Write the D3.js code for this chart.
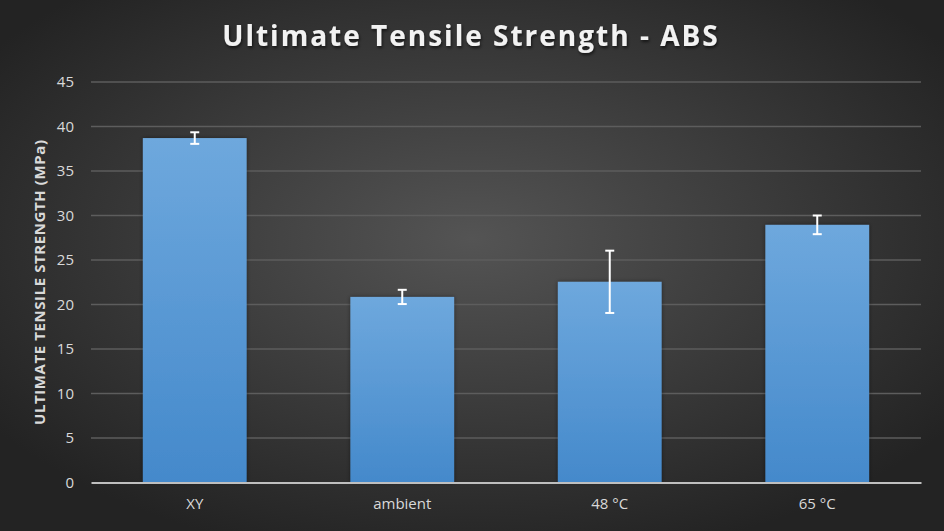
<!DOCTYPE html>
<html>
<head>
<meta charset="utf-8">
<script src="https://cdn.jsdelivr.net/npm/d3@7"></script>
<style>
  html, body { margin: 0; padding: 0; background: #333; }
  svg { display: block; }
</style>
</head>
<body>
<svg id="chart"></svg>
<script>
const categories = ['XY', 'ambient', '48 °C', '65 °C'];
const strength = [38.7, 20.85, 22.55, 28.95];
const errors = [0.65, 0.8, 3.5, 1.05];
const yTicks = [0, 5, 10, 15, 20, 25, 30, 35, 40, 45];

const width = 944;
const height = 531;
const margin = { top: 82, right: 23, bottom: 48.5, left: 91 };

const svg = d3.select('#chart').attr('width', width).attr('height', height);
const defs = svg.append('defs');

const bg = defs.append('radialGradient').attr('id', 'bg')
  .attr('cx', '50%').attr('cy', '45%').attr('r', '62%');
bg.append('stop').attr('offset', '0%').attr('stop-color', '#545454');
bg.append('stop').attr('offset', '100%').attr('stop-color', '#232323');

const barGrad = defs.append('linearGradient').attr('id', 'bar')
  .attr('x1', 0).attr('y1', 0).attr('x2', 0).attr('y2', 1);
barGrad.append('stop').attr('offset', '0%').attr('stop-color', '#6ea8dd');
barGrad.append('stop').attr('offset', '100%').attr('stop-color', '#4489cb');

const shadow = defs.append('filter').attr('id', 'shadow')
  .attr('x', '-20%').attr('y', '-20%').attr('width', '140%').attr('height', '140%');
shadow.append('feDropShadow').attr('dx', 0).attr('dy', 0)
  .attr('stdDeviation', 2).attr('flood-color', '#000').attr('flood-opacity', 0.45);

const titleShadow = defs.append('filter').attr('id', 'tshadow');
titleShadow.append('feDropShadow').attr('dx', 1).attr('dy', 2)
  .attr('stdDeviation', 1.5).attr('flood-color', '#000').attr('flood-opacity', 0.6);

svg.append('rect').attr('width', width).attr('height', height).attr('fill', 'url(#bg)');

const x = d3.scaleBand()
  .domain(categories)
  .range([margin.left, width - margin.right])
  .paddingInner(0.5)
  .paddingOuter(0.25);

const y = d3.scaleLinear()
  .domain([0, 45])
  .range([height - margin.bottom, margin.top]);

// gridlines
svg.append('g')
  .selectAll('line')
  .data(yTicks.filter(d => d > 0))
  .join('line')
  .attr('x1', margin.left)
  .attr('x2', width - margin.right)
  .attr('y1', d => y(d))
  .attr('y2', d => y(d))
  .attr('stroke', '#5d5d5d')
  .attr('stroke-width', 1.5);

// y axis labels
const axisY = d3.axisLeft(y).tickValues(yTicks).tickSize(0).tickPadding(17);
svg.append('g')
  .attr('transform', `translate(${margin.left},0)`)
  .call(axisY)
  .call(g => g.select('.domain').remove())
  .selectAll('text')
  .attr('fill', '#d9d9d9')
  .attr('font-family', 'Open Sans, sans-serif')
  .attr('font-size', 15);

// bars
svg.append('g')
  .selectAll('rect')
  .data(categories)
  .join('rect')
  .attr('x', d => x(d))
  .attr('width', x.bandwidth())
  .attr('y', (d, i) => y(strength[i]))
  .attr('height', (d, i) => y(0) - y(strength[i]))
  .attr('fill', 'url(#bar)')
  .attr('filter', 'url(#shadow)');

// error bars
const err = svg.append('g').attr('stroke', '#ffffff').attr('stroke-width', 2);
categories.forEach((c, i) => {
  const cx = x(c) + x.bandwidth() / 2;
  const top = y(strength[i] + errors[i]);
  const bot = y(strength[i] - errors[i]);
  err.append('line').attr('x1', cx).attr('x2', cx).attr('y1', top).attr('y2', bot);
  err.append('line').attr('x1', cx - 4.5).attr('x2', cx + 4.5).attr('y1', top).attr('y2', top);
  err.append('line').attr('x1', cx - 4.5).attr('x2', cx + 4.5).attr('y1', bot).attr('y2', bot);
});

// x axis
const axisX = d3.axisBottom(x).tickSize(0).tickPadding(16);
svg.append('g')
  .attr('transform', `translate(0,${y(0)})`)
  .call(axisX)
  .call(g => g.select('.domain').attr('stroke', '#bfbfbf').attr('stroke-width', 2))
  .selectAll('text')
  .attr('fill', '#d9d9d9')
  .attr('font-family', 'Open Sans, sans-serif')
  .attr('font-size', 15);

// title
svg.append('text')
  .attr('x', 471)
  .attr('y', 46)
  .attr('text-anchor', 'middle')
  .attr('fill', '#f2f2f2')
  .attr('font-family', 'Open Sans, sans-serif')
  .attr('font-weight', 'bold')
  .attr('font-size', 28)
  .attr('letter-spacing', 2)
  .attr('filter', 'url(#tshadow)')
  .text('Ultimate Tensile Strength - ABS');

// y axis title
svg.append('text')
  .attr('transform', `translate(44.5,282.5) rotate(-90)`)
  .attr('text-anchor', 'middle')
  .attr('fill', '#d9d9d9')
  .attr('font-family', 'Open Sans, sans-serif')
  .attr('font-weight', 'bold')
  .attr('font-size', 15)
  .attr('textLength', 285)
  .attr('lengthAdjust', 'spacing')
  .text('ULTIMATE TENSILE STRENGTH (MPa)');
</script>
</body>
</html>
